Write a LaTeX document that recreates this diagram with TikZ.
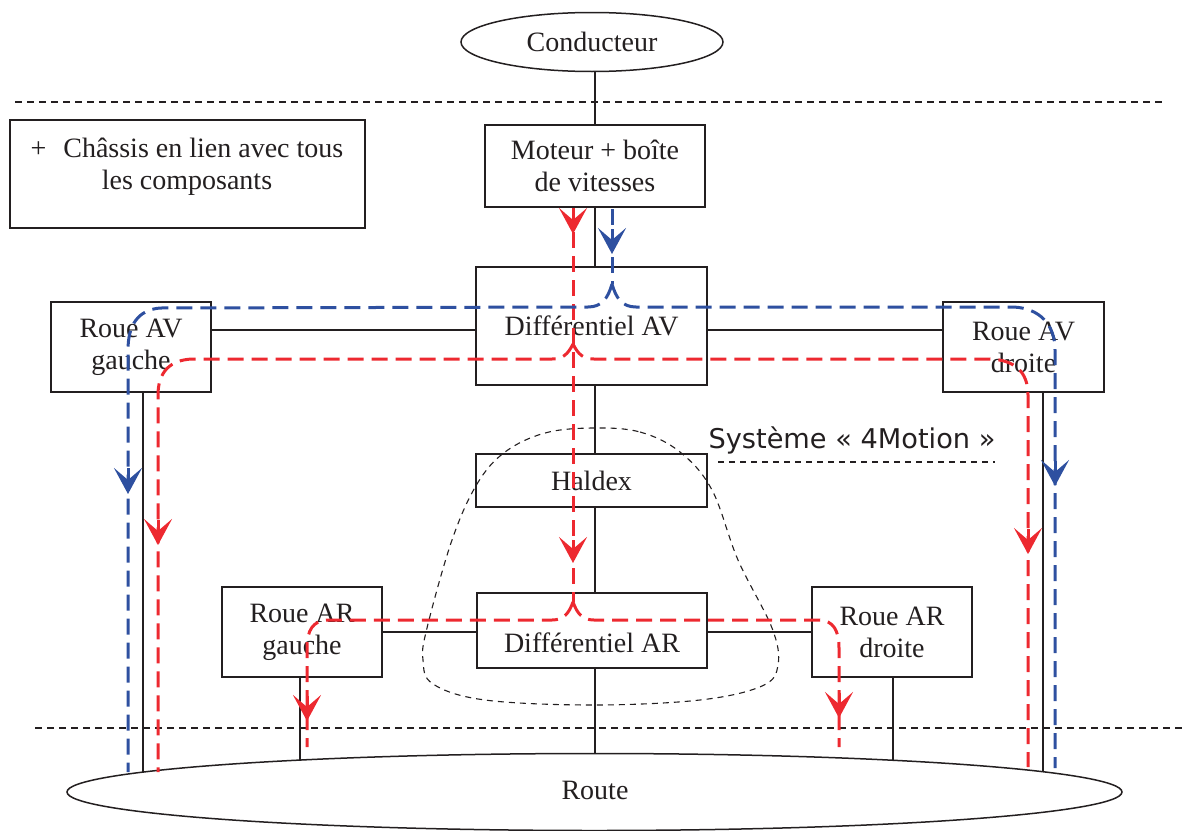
\documentclass[tikz,border=0pt]{standalone}
\usepackage{fontspec}
\setmainfont{Liberation Serif}
\newfontfamily\comicfont{DejaVu Sans}
\usetikzlibrary{arrows.meta,shapes.geometric}
\definecolor{rouge}{RGB}{237,41,48}
\definecolor{bleu}{RGB}{46,80,160}
\definecolor{encre}{RGB}{35,31,32}
\begin{document}
\begin{tikzpicture}[x=0.5pt,y=-0.5pt,
  font=\fontsize{14}{16}\selectfont, text=encre,
  box/.style={draw=encre, line width=0.75pt, inner sep=0pt, align=center},
  oval/.style={ellipse, draw=encre, line width=0.75pt, inner sep=0pt},
  link/.style={draw=encre, line width=0.75pt},
  sepline/.style={draw=encre, line width=0.65pt, dash pattern=on 3.5pt off 2.5pt},
  zoneline/.style={draw=encre, line width=0.55pt, dash pattern=on 3pt off 2.5pt},
  rflow/.style={draw=rouge, line width=1.5pt, dash pattern=on 8pt off 4pt},
  bflow/.style={draw=bleu, line width=1.5pt, dash pattern=on 8pt off 4pt},
  rtip/.style={draw=rouge, fill=rouge, line width=1.5pt, -{Stealth[length=13pt,width=14pt,inset=6pt]}},
  btip/.style={draw=bleu, fill=bleu, line width=1.5pt, -{Stealth[length=13pt,width=14pt,inset=6pt]}}
]
\useasboundingbox (0,0) rectangle (1183,830);

% separators
\draw[sepline] (15,102) -- (1165,102);
\draw[sepline] (35,728) -- (1183,728);

% nodes
\node[oval, minimum width=131pt, minimum height=29.5pt] (cond) at (592,42) {Conducteur};
\node[box, minimum width=177.5pt, minimum height=54pt] (chassis) at (187.5,174) {};
\node[align=center] (chassistxt) at (187,166.5) {+\hspace{0.6em}Châssis en lien avec tous\\les composants};
\node[box, minimum width=110pt, minimum height=41pt] (mot) at (595,166) {Moteur + boîte\\de vitesses};
\node[box, minimum width=115.5pt, minimum height=59pt] (diffav) at (591.5,326) {Différentiel AV};
\node[box, minimum width=80pt, minimum height=45pt] (ravg) at (131,347) {Roue AV\\gauche};
\node[box, minimum width=80.5pt, minimum height=45pt] (ravd) at (1023.5,347) {Roue AV\\droite};
\node[box, minimum width=115.5pt, minimum height=26.5pt] (haldex) at (591.5,480.5) {Haldex};
\node[box, minimum width=115pt, minimum height=37.5pt] (diffar) at (592,630.5) {};
\node (diffartxt) at (592,643) {Différentiel AR};
\node[box, minimum width=80pt, minimum height=45pt] (rarg) at (302,632) {Roue AR\\gauche};
\node[box, minimum width=80pt, minimum height=45pt] (rard) at (892,632) {Roue AR\\droite};
\node[oval, minimum width=527.5pt, minimum height=38.5pt] (route) at (594.5,792) {};
\node (routetxt) at (595,790) {Route};

% 4Motion zone
\draw[zoneline] plot[smooth cycle, tension=0.6] coordinates {(593,428) (640,432) (680,452) (712,490) (738,560) (772,628) (778,665) (762,686) (700,700) (593,705) (485,700) (433,684) (423,660) (427,628) (452,540) (477,484) (505,452) (545,433)};
\node[font=\comicfont\fontsize{13.6}{16}\selectfont] (sys) at (852,440) {Système « 4Motion »};
\draw[zoneline] (718,462) -- (995,462);

% contact points on the road
\coordinate (r1) at (143,772);
\coordinate (r2) at (1043,771.5);
\coordinate (r3) at (300,760);
\coordinate (r4) at (893,760);
\coordinate (hav) at (0,330);

% mechanical links
\draw[link] (cond.south -| mot.north) -- (mot.north);
\draw[link] (mot.south) -- (mot.south |- diffav.north);
\draw[link] (mot.south |- diffav.south) -- (mot.south |- haldex.north);
\draw[link] (mot.south |- haldex.south) -- (mot.south |- diffar.north);
\draw[link] (mot.south |- diffar.south) -- (mot.south |- route.north);
\draw[link] (ravg.east |- hav) -- (diffav.west |- hav);
\draw[link] (diffav.east |- hav) -- (ravd.west |- hav);
\draw[link] (rarg.east) -- (rarg.east -| diffar.west);
\draw[link] (rard.west) -- (rard.west -| diffar.east);
\draw[link] (r1 |- ravg.south) -- (r1);
\draw[link] (r2 |- ravd.south) -- (r2);
\draw[link] (r3 |- rarg.south) -- (r3);
\draw[link] (r4 |- rard.south) -- (r4);

% red flow
\draw[rflow] (573,208) -- (573,602);
\draw[rflow] (573,344) .. controls (568,354) and (563,359) .. (552,359) -- (192,359) .. controls (170,360) and (158,372) .. (158,395) -- (158,772);
\draw[rflow] (573,344) .. controls (578,354) and (583,359) .. (594,359) -- (990,359) .. controls (1015,360) and (1028,372) .. (1028,395) -- (1028,767);
\draw[rflow] (573,602) .. controls (569,613) and (564,620) .. (552,620) -- (327,620) .. controls (313,621) and (307,630) .. (307,648) -- (307,747);
\draw[rflow] (573,602) .. controls (577,613) and (582,620) .. (594,620) -- (820,620) .. controls (833,621) and (839,630) .. (839,648) -- (839,747);

% blue flow
\draw[bflow] (612,209) -- (612,284);
\draw[bflow] (612,284) .. controls (608,298) and (602,307) .. (588,307) -- (160,308) .. controls (138,310) and (128,325) .. (128,350) -- (128,772);
\draw[bflow] (612,284) .. controls (616,298) and (622,307) .. (636,307) -- (1013,307) .. controls (1040,308) and (1055,325) .. (1055,350) -- (1055,768);

% arrow tips
\draw[rtip] (573,211) -- (573,234);
\draw[rtip] (158,520) -- (158,545);
\draw[rtip] (1028,529) -- (1028,554);
\draw[rtip] (573,540) -- (573,563);
\draw[rtip] (307,696) -- (307,721);
\draw[rtip] (839,693) -- (839,718);
\draw[btip] (612,229) -- (612,254);
\draw[btip] (128,468) -- (128,494);
\draw[btip] (1055,461) -- (1055,486);
\end{tikzpicture}
\end{document}
